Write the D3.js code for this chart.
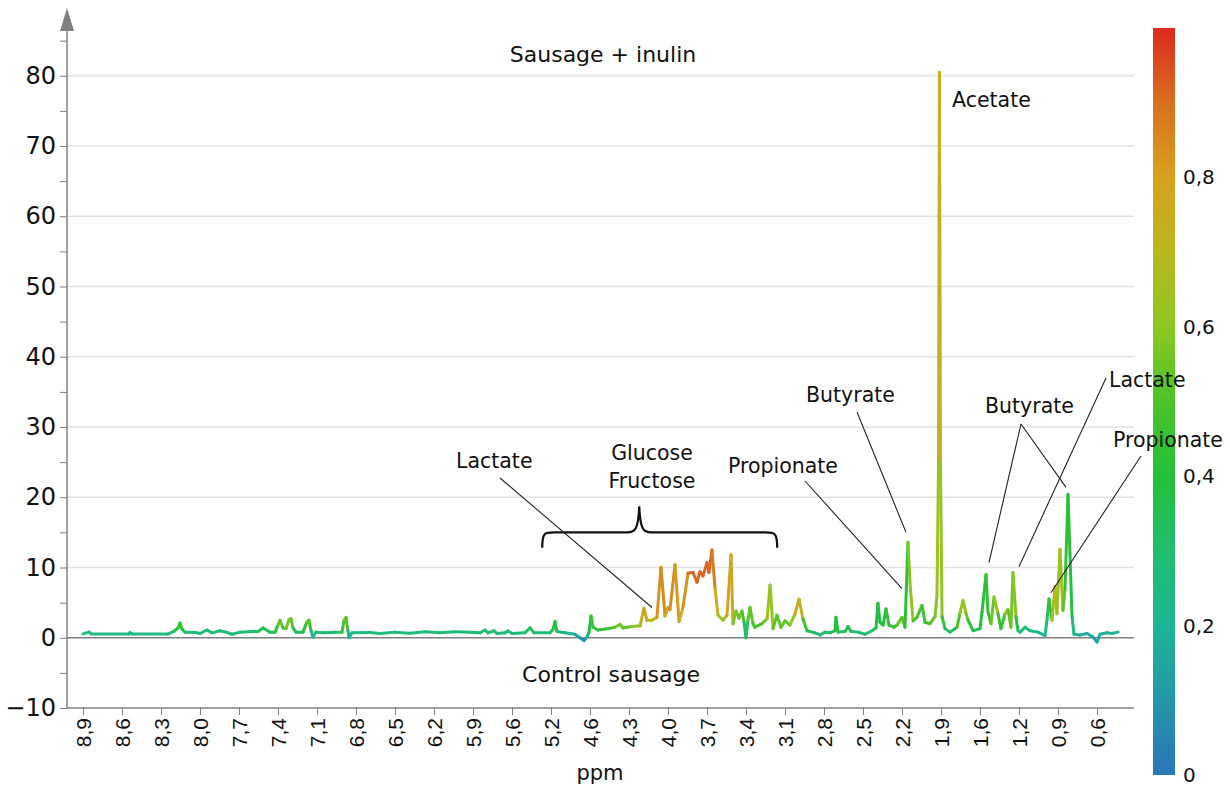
<!DOCTYPE html>
<html>
<head>
<meta charset="utf-8">
<script src="https://cdn.jsdelivr.net/npm/d3@7"></script>
<style>
  body { margin: 0; background: #fff; }
  svg { display: block; font-family: "DejaVu Sans", sans-serif; }
</style>
</head>
<body>
<svg id="chart"></svg>
<script>
// x axis ticks (ppm) - labels are evenly spaced in the original plot
const xTickValues = [8.9, 8.6, 8.3, 8.0, 7.7, 7.4, 7.1, 6.8, 6.5, 6.2, 5.9, 5.6, 5.2, 4.6,
  4.3, 4.0, 3.7, 3.4, 3.1, 2.8, 2.5, 2.2, 1.9, 1.6, 1.2, 0.9, 0.6];
const xTickLabels = ['8,9', '8,6', '8,3', '8,0', '7,7', '7,4', '7,1', '6,8', '6,5', '6,2', '5,9',
  '5,6', '5,2', '4,6', '4,3', '4,0', '3,7', '3,4', '3,1', '2,8', '2,5', '2,2', '1,9', '1,6',
  '1,2', '0,9', '0,6'];
const yTicks = d3.range(-10, 90, 5);
const colorTicks = [0, 0.2, 0.4, 0.6, 0.8];

// spectrum: chemical shift, loading intensity, correlation (colour)
const ppm = [
  8.900, 8.854, 8.838, 8.546, 8.538, 8.523, 8.246, 8.200, 8.169, 8.154, 8.138, 8.115, 8.031, 8.000, 7.946, 7.908, 7.846, 7.800, 7.754, 7.692,
  7.600, 7.554, 7.515, 7.462, 7.423, 7.400, 7.385, 7.362, 7.338, 7.315, 7.300, 7.285, 7.262, 7.208, 7.177, 7.162, 7.146, 7.131, 7.108, 7.038,
  6.962, 6.908, 6.892, 6.877, 6.862, 6.854, 6.831, 6.692, 6.615, 6.500, 6.385, 6.269, 6.154, 6.038, 5.923, 5.846, 5.808, 5.785, 5.738, 5.715,
  5.654, 5.631, 5.600, 5.467, 5.415, 5.374, 5.210, 5.169, 5.138, 5.108, 4.985, 4.831, 4.754, 4.692, 4.646, 4.615, 4.592, 4.577, 4.538, 4.462,
  4.408, 4.369, 4.346, 4.277, 4.215, 4.185, 4.162, 4.123, 4.085, 4.054, 4.023, 4.000, 3.985, 3.946, 3.915, 3.885, 3.846, 3.808, 3.777, 3.754,
  3.731, 3.700, 3.685, 3.662, 3.638, 3.615, 3.577, 3.546, 3.515, 3.500, 3.477, 3.454, 3.431, 3.415, 3.400, 3.385, 3.369, 3.346, 3.331, 3.277,
  3.238, 3.215, 3.192, 3.162, 3.131, 3.100, 3.062, 3.023, 2.992, 2.962, 2.931, 2.869, 2.831, 2.792, 2.754, 2.715, 2.708, 2.692, 2.638, 2.615,
  2.592, 2.538, 2.485, 2.431, 2.400, 2.385, 2.369, 2.346, 2.323, 2.300, 2.262, 2.238, 2.200, 2.177, 2.154, 2.138, 2.115, 2.085, 2.046, 2.023,
  1.985, 1.946, 1.931, 1.919, 1.912, 1.904, 1.892, 1.869, 1.831, 1.777, 1.754, 1.731, 1.708, 1.692, 1.654, 1.600, 1.579, 1.538, 1.518, 1.487,
  1.456, 1.415, 1.385, 1.344, 1.313, 1.282, 1.262, 1.231, 1.210, 1.192, 1.154, 1.115, 1.054, 1.000, 0.985, 0.969, 0.946, 0.923, 0.908, 0.885,
  0.862, 0.846, 0.823, 0.808, 0.792, 0.777, 0.731, 0.677, 0.631, 0.600, 0.577, 0.523, 0.485, 0.438,
];
const intensity = [
  0.55, 0.8, 0.55, 0.55, 0.75, 0.55, 0.55, 0.9, 1.4, 2.1, 1.2, 0.8, 0.75, 0.6, 1.1, 0.7, 1.0, 0.8, 0.5, 0.8,
  0.9, 0.9, 1.4, 0.8, 0.8, 1.8, 2.5, 1.4, 1.3, 2.6, 2.7, 1.4, 0.8, 0.8, 2.3, 2.5, 1.0, 0.1, 0.8, 0.7,
  0.8, 0.8, 2.5, 2.9, 1.0, 0.0, 0.7, 0.75, 0.6, 0.8, 0.65, 0.85, 0.7, 0.85, 0.8, 0.7, 1.1, 0.7, 1.0, 0.6,
  0.7, 0.95, 0.6, 0.7, 1.4, 0.7, 0.7, 1.2, 2.3, 0.9, 0.7, 0.5, 0.0, -0.4, 0.1, 0.8, 3.1, 1.5, 1.1, 1.3,
  1.5, 1.9, 1.4, 1.6, 1.7, 4.2, 2.5, 2.5, 2.9, 10.0, 3.1, 4.3, 4.0, 10.4, 2.3, 4.3, 9.2, 9.3, 7.9, 9.4,
  8.8, 10.7, 9.3, 12.5, 7.0, 3.2, 2.5, 3.2, 11.8, 2.0, 3.8, 2.8, 3.8, 2.2, 0.0, 2.5, 4.3, 2.0, 1.5, 2.0,
  2.7, 7.5, 1.3, 3.2, 1.5, 2.4, 1.8, 3.4, 5.5, 2.7, 1.0, 0.7, 0.4, 0.8, 0.7, 1.0, 2.9, 0.8, 0.9, 1.6,
  0.9, 0.8, 0.5, 1.0, 1.4, 4.9, 2.2, 1.8, 4.1, 1.8, 1.5, 1.8, 2.9, 1.5, 13.6, 7.7, 2.4, 2.9, 4.6, 2.2,
  2.0, 3.0, 6.0, 25, 80.5, 25, 3.0, 1.3, 0.8, 1.5, 3.5, 5.3, 3.5, 2.5, 1.0, 1.3, 3.7, 9.0, 3.7, 2.0,
  5.8, 3.4, 1.3, 3.4, 4.0, 1.5, 9.3, 3.0, 1.0, 0.8, 1.5, 1.0, 0.8, 0.3, 2.5, 5.5, 2.5, 7.3, 3.4, 12.6,
  3.9, 7.0, 20.4, 12, 3.0, 0.5, 0.4, 0.6, 0.1, -0.6, 0.5, 0.7, 0.6, 0.8,
];
const corr = [
  0.25, 0.3, 0.25, 0.25, 0.28, 0.25, 0.25, 0.32, 0.42, 0.5, 0.4, 0.3, 0.28, 0.25, 0.3, 0.25, 0.3, 0.28, 0.25, 0.28,
  0.28, 0.3, 0.38, 0.3, 0.35, 0.5, 0.62, 0.45, 0.5, 0.6, 0.62, 0.45, 0.3, 0.3, 0.55, 0.6, 0.35, 0.12, 0.3, 0.27,
  0.3, 0.32, 0.6, 0.65, 0.35, 0.12, 0.27, 0.27, 0.26, 0.27, 0.26, 0.28, 0.27, 0.28, 0.28, 0.27, 0.32, 0.27, 0.3, 0.27,
  0.27, 0.3, 0.27, 0.27, 0.38, 0.27, 0.27, 0.38, 0.45, 0.3, 0.25, 0.18, 0.12, 0.1, 0.12, 0.3, 0.45, 0.45, 0.4, 0.45,
  0.5, 0.6, 0.5, 0.55, 0.65, 0.85, 0.7, 0.7, 0.72, 0.95, 0.75, 0.8, 0.75, 0.94, 0.7, 0.75, 0.92, 0.92, 0.9, 0.92,
  0.9, 0.93, 0.9, 0.93, 0.82, 0.7, 0.6, 0.65, 0.95, 0.6, 0.55, 0.55, 0.55, 0.45, 0.15, 0.5, 0.55, 0.5, 0.45, 0.5,
  0.55, 0.74, 0.5, 0.55, 0.5, 0.55, 0.5, 0.72, 0.86, 0.6, 0.35, 0.3, 0.25, 0.3, 0.3, 0.35, 0.45, 0.33, 0.33, 0.38,
  0.33, 0.3, 0.28, 0.3, 0.33, 0.4, 0.38, 0.4, 0.42, 0.42, 0.45, 0.45, 0.6, 0.4, 0.45, 0.72, 0.5, 0.5, 0.48, 0.45,
  0.48, 0.55, 0.62, 0.66, 0.76, 0.66, 0.55, 0.35, 0.3, 0.4, 0.6, 0.62, 0.6, 0.5, 0.35, 0.35, 0.4, 0.42, 0.45, 0.4,
  0.68, 0.55, 0.35, 0.55, 0.62, 0.45, 0.68, 0.5, 0.3, 0.25, 0.3, 0.25, 0.22, 0.18, 0.3, 0.35, 0.5, 0.82, 0.6, 0.68,
  0.6, 0.45, 0.42, 0.42, 0.35, 0.2, 0.18, 0.18, 0.15, 0.12, 0.18, 0.2, 0.2, 0.2,
];

// metabolite labels: text position + the peak (ppm, value) each leader line points at
const labels = [
  { text: 'Acetate', x: 952, y: 107, anchor: 'start', lines: [] },
  { text: 'Butyrate', x: 806, y: 402, anchor: 'start', lines: [[857, 412, 2.169, 15]] },
  { text: 'Propionate', x: 728, y: 473, anchor: 'start', lines: [[805, 481, 2.2, 7]] },
  { text: 'Lactate', x: 456, y: 468, anchor: 'start', lines: [[500, 478, 4.123, 4.3]] },
  { text: 'Glucose', x: 652, y: 460, anchor: 'middle', lines: [] },
  { text: 'Fructose', x: 652, y: 488, anchor: 'middle', lines: [] },
  { text: 'Butyrate', x: 985, y: 413, anchor: 'start', lines: [[1021, 424, 1.508, 10.7], [1021, 424, 0.838, 21.4]] },
  { text: 'Lactate', x: 1109, y: 387, anchor: 'start', lines: [[1106, 378, 1.2, 10.1]] },
  { text: 'Propionate', x: 1113, y: 447, anchor: 'start', lines: [[1141, 456, 0.954, 6.4]] },
];
const sugarRange = [5.29, 3.16];

const config = {
  width: 1230,
  height: 789,
  colorStops: ['#2b76b9', '#2596a8', '#1eb496', '#21bd6f', '#23c03a', '#4dc22a',
    '#8dc721', '#b9b71e', '#d6a21e', '#d8701f', '#dc2a1f'],
};

const svg = d3.select('#chart')
  .attr('width', config.width)
  .attr('height', config.height);

const plotLeft = 67, plotRight = 1134, plotBottom = 708;

const x = d3.scaleLinear()
  .domain(xTickValues)
  .range(xTickValues.map((d, i) => 83 + i * 39));
const y = d3.scaleLinear().domain([-10, 85]).range([plotBottom, plotBottom - 95 * 7.025]);
const color = d3.scaleLinear()
  .domain(d3.range(0, 1.01, 0.1))
  .range(config.colorStops)
  .clamp(true);

// grid
svg.append('g')
  .selectAll('line')
  .data(d3.range(10, 90, 10))
  .join('line')
  .attr('x1', plotLeft).attr('x2', plotRight)
  .attr('y1', d => y(d)).attr('y2', d => y(d))
  .attr('stroke', '#e2e2e2')
  .attr('stroke-width', 1.5);

svg.append('line')
  .attr('x1', plotLeft).attr('x2', plotRight)
  .attr('y1', y(0)).attr('y2', y(0))
  .attr('stroke', '#808080')
  .attr('stroke-width', 1.5);

// y axis with arrow
const yAxis = svg.append('g')
  .attr('transform', `translate(${plotLeft},0)`)
  .call(d3.axisLeft(y).tickValues(yTicks).tickSize(7).tickPadding(4)
    .tickFormat(d => (d % 10 === 0 ? d3.format('')(d) : '')));
yAxis.select('.domain').remove();
yAxis.selectAll('line').attr('stroke', '#808080');
yAxis.selectAll('text').attr('font-size', 24).attr('fill', '#111')
  .attr('font-family', '"DejaVu Sans", sans-serif');

svg.append('line')
  .attr('x1', plotLeft).attr('x2', plotLeft)
  .attr('y1', plotBottom).attr('y2', 28)
  .attr('stroke', '#808080').attr('stroke-width', 1.5);
svg.append('path')
  .attr('d', `M${plotLeft - 7},31L${plotLeft},8L${plotLeft + 7},31Z`)
  .attr('fill', '#808080');

// x axis
svg.append('line')
  .attr('x1', plotLeft).attr('x2', plotRight)
  .attr('y1', plotBottom).attr('y2', plotBottom)
  .attr('stroke', '#808080').attr('stroke-width', 1.5);

const xAxis = svg.append('g')
  .attr('transform', `translate(0,${plotBottom})`)
  .call(d3.axisBottom(x).tickValues(xTickValues).tickSize(7)
    .tickFormat((d, i) => xTickLabels[i]));
xAxis.select('.domain').remove();
xAxis.selectAll('line').attr('stroke', '#808080');
xAxis.selectAll('text')
  .attr('transform', 'rotate(-90)')
  .attr('x', -10).attr('y', 0).attr('dy', '0.35em')
  .attr('text-anchor', 'end')
  .attr('font-size', 21)
  .attr('font-family', '"Liberation Sans", Arial, sans-serif')
  .attr('fill', '#111');

svg.append('text')
  .attr('x', 600).attr('y', 780)
  .attr('text-anchor', 'middle')
  .attr('font-size', 21)
  .attr('fill', '#111')
  .text('ppm');

// spectrum, one segment per pair of points coloured by correlation
const points = ppm.map((d, i) => ({ ppm: d, v: intensity[i], c: corr[i] }));
svg.append('g')
  .selectAll('line')
  .data(d3.pairs(points))
  .join('line')
  .attr('x1', d => x(d[0].ppm)).attr('y1', d => y(d[0].v))
  .attr('x2', d => x(d[1].ppm)).attr('y2', d => y(d[1].v))
  .attr('stroke', d => color((d[0].c + d[1].c) / 2))
  .attr('stroke-width', 3)
  .attr('stroke-linecap', 'round');

// colour bar
const cScale = d3.scaleLinear().domain([0, 1]).range([775, 28]);
const grad = svg.append('defs').append('linearGradient')
  .attr('id', 'cbar')
  .attr('x1', 0).attr('y1', 1).attr('x2', 0).attr('y2', 0);
grad.selectAll('stop')
  .data(config.colorStops)
  .join('stop')
  .attr('offset', (d, i) => i / (config.colorStops.length - 1))
  .attr('stop-color', d => d);
svg.append('rect')
  .attr('x', 1153).attr('y', cScale(1))
  .attr('width', 22).attr('height', cScale(0) - cScale(1))
  .attr('fill', 'url(#cbar)');
const cAxis = svg.append('g')
  .attr('transform', 'translate(1175,0)')
  .call(d3.axisRight(cScale).tickValues(colorTicks).tickSize(0).tickPadding(8)
    .tickFormat(d => String(d).replace('.', ',')));
cAxis.select('.domain').remove();
cAxis.selectAll('text').attr('font-size', 20).attr('fill', '#111')
  .attr('font-family', '"DejaVu Sans", sans-serif');

// brace over sugar region
const bx0 = x(sugarRange[0]), bx1 = x(sugarRange[1]), bm = x(d3.mean(sugarRange)) + 0.5;
const by = y(15), byEnd = y(12.8), byTip = y(18.7);
svg.append('path')
  .attr('d', `M${bx0},${byEnd}C${bx0},${by - 1} ${bx0 + 3},${by} ${bx0 + 14},${by}` +
    `L${bm - 12},${by}C${bm - 4},${by} ${bm - 1},${by - 3} ${bm},${byTip}` +
    `C${bm + 1},${by - 3} ${bm + 4},${by} ${bm + 12},${by}` +
    `L${bx1 - 14},${by}C${bx1 - 3},${by} ${bx1},${by - 1} ${bx1},${byEnd}`)
  .attr('fill', 'none')
  .attr('stroke', '#111')
  .attr('stroke-width', 2.2);

// leader lines + labels
const ann = svg.append('g');
labels.forEach(l => {
  l.lines.forEach(s => {
    ann.append('line')
      .attr('x1', s[0]).attr('y1', s[1])
      .attr('x2', x(s[2])).attr('y2', y(s[3]))
      .attr('stroke', '#222').attr('stroke-width', 1.1);
  });
  ann.append('text')
    .attr('x', l.x).attr('y', l.y)
    .attr('text-anchor', l.anchor)
    .attr('font-size', 20.5)
    .attr('fill', '#111')
    .text(l.text);
});

svg.append('text')
  .attr('x', 603).attr('y', 62)
  .attr('text-anchor', 'middle')
  .attr('font-size', 22)
  .attr('fill', '#111')
  .text('Sausage + inulin');
svg.append('text')
  .attr('x', 611).attr('y', 682)
  .attr('text-anchor', 'middle')
  .attr('font-size', 22)
  .attr('fill', '#111')
  .text('Control sausage');
</script>
</body>
</html>
